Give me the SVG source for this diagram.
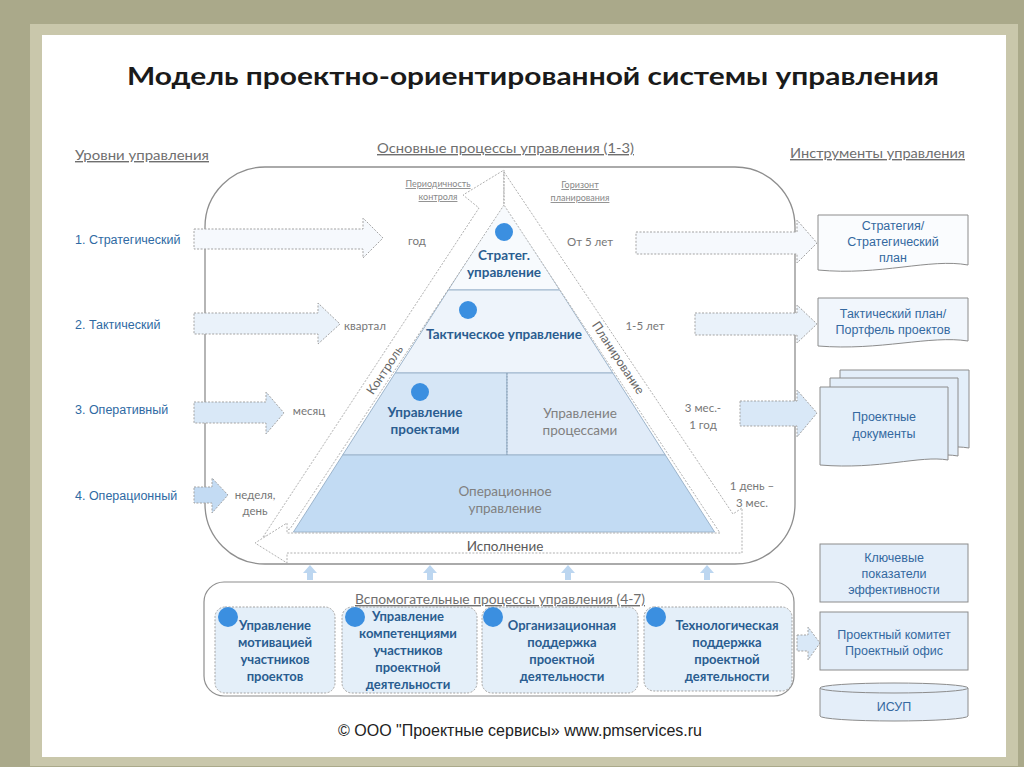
<svg xmlns="http://www.w3.org/2000/svg" width="1024" height="767" viewBox="0 0 1024 767">
<defs>
<style>
.t{font-family:Lato,"Liberation Sans",sans-serif}
.hdr{font-family:Lato,"Liberation Sans",sans-serif;font-size:14px;fill:#6f6f6f;text-decoration:underline}
.lvl{font-family:"Liberation Sans",Arial,sans-serif;font-size:12.5px;fill:#2f6aa3}
.sm{font-family:Lato,"Liberation Sans",sans-serif;font-size:11.5px;fill:#777;text-anchor:middle}
.tiny{font-family:Lato,"Liberation Sans",sans-serif;font-size:9px;fill:#888;text-anchor:middle;text-decoration:underline}
.pb{font-family:Lato,"Liberation Sans",sans-serif;font-size:13.5px;font-weight:bold;fill:#2a5d90;text-anchor:middle}
.pg{font-family:Lato,"Liberation Sans",sans-serif;font-size:13.5px;fill:#808080;text-anchor:middle}
.inst{font-family:"Liberation Sans",Arial,sans-serif;font-size:12.5px;fill:#3469a0;text-anchor:middle}
.sb{font-family:Lato,"Liberation Sans",sans-serif;font-size:13px;font-weight:bold;fill:#2a5d90;text-anchor:middle}
.dot{stroke:#a3a3a3;stroke-width:1;stroke-dasharray:2 1.5}
.band{fill:#fff;stroke:#b0b0b0;stroke-width:1;stroke-dasharray:2 1.5}
.doc{stroke:#8c8c8c;stroke-width:1}
.circ{fill:#3b8fe0}
.tier{stroke:#9db5cc;stroke-width:1}
</style>
</defs>
<!-- background -->
<rect x="0" y="0" width="1024" height="767" fill="#aaa98a"/>
<rect x="30" y="24" width="988" height="742" fill="#c9c7ab"/>
<rect x="42" y="35" width="964" height="722" fill="#ffffff"/>

<!-- title -->
<text class="t" x="533" y="85" font-size="24" font-weight="bold" fill="#1a1a1a" text-anchor="middle" textLength="812" lengthAdjust="spacingAndGlyphs">Модель проектно-ориентированной системы управления</text>

<!-- headers -->
<text class="hdr" x="75" y="160" textLength="134" lengthAdjust="spacingAndGlyphs">Уровни управления</text>
<text class="hdr" x="377" y="153" textLength="257" lengthAdjust="spacingAndGlyphs">Основные процессы управления (1-3)</text>
<text class="hdr" x="790" y="158" textLength="175" lengthAdjust="spacingAndGlyphs">Инструменты управления</text>

<!-- main container -->
<g id="main-container">
<rect x="205" y="167" width="590" height="397" rx="60" fill="#fff" stroke="#8e8e8e" stroke-width="1.3"/>
</g>

<!-- pyramid -->
<g id="pyramid">
<polygon class="tier" points="504,203 559.7,290 448.3,290" fill="#f7fafd"/>
<polygon class="tier" points="448.3,290 559.7,290 612.8,373 395.2,373" fill="#eef4fb"/>
<polygon class="tier" points="395.2,373 507,373 507,455 342.7,455" fill="#d6e6f6"/>
<polygon class="tier" points="507,373 612.8,373 665.3,455 507,455" fill="#e0ebf8"/>
<polygon class="tier" points="342.7,455 665.3,455 714.6,532 293.4,532" fill="#c2dbf3"/>
<line x1="507" y1="373" x2="507" y2="455" stroke="#8aa0b5" stroke-dasharray="1.5 1.5"/>
</g>

<!-- cycle bands and arrows -->
<g id="connectors">
<polygon id="band-control" class="band" points="263,537 479,208 463,195 504,170 504,205 290,529"/>
<polygon id="band-plan-exec" class="band" points="504,172 733,514 742,508 742,553 287,553 287,563 255,543 287,523 287,533 720,533 504,205"/>
<line x1="504" y1="172" x2="504" y2="205" stroke="#b0b0b0" stroke-dasharray="1.5 1.5"/>

<!-- left arrows -->
<polygon class="dot" fill="#f6f9fd" points="194,229 363,229 363,218 383,238 363,258 363,249 194,249"/>
<polygon class="dot" fill="#eaf2fa" points="194,313 318,313 318,303 340,324 318,344 318,334 194,334"/>
<polygon class="dot" fill="#d9e8f7" points="194,402 266,402 266,392 284,413 266,434 266,423 194,423"/>
<polygon class="dot" fill="#c3dbf3" points="194,487 212,487 212,478 228,495 212,513 212,503 194,503"/>

<!-- right arrows -->
<polygon class="dot" fill="#f6f9fd" points="636,232 797,232 797,220 817,243 797,263 797,254 636,254"/>
<polygon class="dot" fill="#eaf2fa" points="695,313 797,313 797,305 817,324 797,343 797,335 695,335"/>
<polygon class="dot" fill="#d9e8f7" points="740,401 797,401 797,390 817,413 797,437 797,426 740,426"/>
<polygon class="dot" fill="#d9e8f7" points="797,635 808,635 808,627 820,643 808,660 808,651 797,651"/>

<!-- up arrows -->
<polygon fill="#bcd6f0" points="303,573 310,565 317,573 313,573 313,580 307,580 307,573"/>
<polygon fill="#bcd6f0" points="423,573 430,565 437,573 433,573 433,580 427,580 427,573"/>
<polygon fill="#bcd6f0" points="561,573 568,565 575,573 571,573 571,580 565,580 565,573"/>
<polygon fill="#bcd6f0" points="700,573 707,565 714,573 710,573 710,580 704,580 704,573"/>
</g>

<!-- band labels -->
<text class="t" x="385" y="374" font-size="12.5" fill="#666" text-anchor="middle" transform="rotate(-56.6 385 370)">Контроль</text>
<text class="t" x="618" y="362" font-size="12.5" fill="#666" text-anchor="middle" transform="rotate(56.6 618 358)">Планирование</text>
<text class="t" x="505" y="551" font-size="13.5" fill="#5a5a5a" text-anchor="middle">Исполнение</text>
<text class="tiny" x="438" y="187">Периодичность</text>
<text class="tiny" x="438" y="200">контроля</text>
<text class="tiny" x="580" y="188">Горизонт</text>
<text class="tiny" x="580" y="201">планирования</text>

<!-- levels -->
<g id="level-1"><text class="lvl" x="75" y="244">1. Стратегический</text></g>
<g id="level-2"><text class="lvl" x="75" y="329">2. Тактический</text></g>
<g id="level-3"><text class="lvl" x="75" y="414">3. Оперативный</text></g>
<g id="level-4"><text class="lvl" x="75" y="500">4. Операционный</text></g>

<!-- periodicity -->
<text class="sm" x="417" y="245">год</text>
<text class="sm" x="365" y="330">квартал</text>
<text class="sm" x="309" y="415">месяц</text>
<text class="sm" x="255" y="499">неделя,</text>
<text class="sm" x="255" y="515">день</text>

<!-- horizons -->
<text class="sm" x="590" y="246" font-size="12">От 5 лет</text>
<text class="sm" x="645" y="330" font-size="12">1-5 лет</text>
<text class="sm" x="703" y="412" font-size="12">3 мес.-</text>
<text class="sm" x="703" y="429" font-size="12">1 год</text>
<text class="sm" x="752" y="490" font-size="12">1 день –</text>
<text class="sm" x="752" y="507" font-size="12">3 мес.</text>

<!-- pyramid labels -->
<g id="node-strateg">
<circle class="circ" cx="504" cy="232" r="9"/>
<text class="pb" x="504" y="260">Стратег.</text>
<text class="pb" x="504" y="277">управление</text>
</g>
<g id="node-tactic">
<circle class="circ" cx="468" cy="310" r="9"/>
<text class="pb" x="504" y="339">Тактическое управление</text>
</g>
<g id="node-projects">
<circle class="circ" cx="420" cy="392" r="9"/>
<text class="pb" x="425" y="417">Управление</text>
<text class="pb" x="425" y="434">проектами</text>
</g>
<g id="node-processes">
<text class="pg" x="580" y="418">Управление</text>
<text class="pg" x="580" y="435">процессами</text>
</g>
<g id="node-operational">
<text class="pg" x="505" y="496">Операционное</text>
<text class="pg" x="505" y="513">управление</text>
</g>

<!-- instruments -->
<g id="inst-strategy">
<path class="doc" fill="#fafcfe" d="M818,215 H968 V265 C930,258 880,276 818,270 Z"/>
<text class="inst" x="893" y="230">Стратегия/</text>
<text class="inst" x="893" y="246">Стратегический</text>
<text class="inst" x="893" y="262">план</text>
</g>
<g id="inst-tactic">
<path class="doc" fill="#f1f6fc" d="M818,298 H968 V341 C930,335 880,351 818,346 Z"/>
<text class="inst" x="893" y="318">Тактический план/</text>
<text class="inst" x="893" y="334">Портфель проектов</text>
</g>
<g id="inst-docs">
<path class="doc" fill="#e3eef9" d="M840,370 H969 V448 C940,443 900,457 840,452 Z"/>
<path class="doc" fill="#e3eef9" d="M830,378 H958 V456 C930,451 890,465 830,460 Z"/>
<path class="doc" fill="#e3eef9" d="M820,387 H948 V460 C920,455 880,470 820,465 Z"/>
<text class="inst" x="884" y="421">Проектные</text>
<text class="inst" x="884" y="438">документы</text>
</g>
<g id="inst-kpi">
<rect class="doc" x="820" y="544" width="148" height="58" fill="#e4eef9"/>
<text class="inst" x="894" y="562">Ключевые</text>
<text class="inst" x="894" y="578">показатели</text>
<text class="inst" x="894" y="594">эффективности</text>
</g>
<g id="inst-committee">
<rect class="doc" x="820" y="612" width="148" height="58" fill="#e4eef9"/>
<text class="inst" x="894" y="639">Проектный комитет</text>
<text class="inst" x="894" y="655">Проектный офис</text>
</g>
<g id="inst-isup">
<path class="doc" fill="#e4eef9" d="M820,688 V716 A74,5 0 0 0 968,716 V688"/>
<ellipse class="doc" cx="894" cy="688" rx="74" ry="5" fill="#e4eef9"/>
<text class="inst" x="894" y="711">ИСУП</text>
</g>

<!-- support processes -->
<g id="support-container">
<rect x="204" y="582" width="590" height="114" rx="20" fill="#fff" stroke="#8e8e8e" stroke-width="1.2"/>
<text class="hdr" x="355" y="604" textLength="290" lengthAdjust="spacingAndGlyphs">Вспомогательные процессы управления (4-7)</text>
</g>
<g id="support-1">
<rect class="dot" x="215" y="607" width="120" height="86" rx="10" fill="#e4eff9"/>
<circle class="circ" cx="228" cy="617" r="10"/>
<text class="sb" x="275" y="630">Управление</text>
<text class="sb" x="275" y="647">мотивацией</text>
<text class="sb" x="275" y="664">участников</text>
<text class="sb" x="275" y="681">проектов</text>
</g>
<g id="support-2">
<rect class="dot" x="342" y="607" width="135" height="86" rx="10" fill="#e4eff9"/>
<circle class="circ" cx="355" cy="617" r="10"/>
<text class="sb" x="408" y="621">Управление</text>
<text class="sb" x="408" y="638">компетенциями</text>
<text class="sb" x="408" y="655">участников</text>
<text class="sb" x="408" y="672">проектной</text>
<text class="sb" x="408" y="689">деятельности</text>
</g>
<g id="support-3">
<rect class="dot" x="482" y="607" width="156" height="86" rx="10" fill="#e4eff9"/>
<circle class="circ" cx="493" cy="617" r="10"/>
<text class="sb" x="562" y="630">Организационная</text>
<text class="sb" x="562" y="647">поддержка</text>
<text class="sb" x="562" y="664">проектной</text>
<text class="sb" x="562" y="681">деятельности</text>
</g>
<g id="support-4">
<rect class="dot" x="644" y="607" width="148" height="84" rx="10" fill="#e4eff9"/>
<circle class="circ" cx="656" cy="617" r="10"/>
<text class="sb" x="727" y="630">Технологическая</text>
<text class="sb" x="727" y="647">поддержка</text>
<text class="sb" x="727" y="664">проектной</text>
<text class="sb" x="727" y="681">деятельности</text>
</g>

<!-- footer -->
<text x="520" y="736" font-family="'Liberation Sans',Arial,sans-serif" font-size="16" fill="#222" text-anchor="middle">© ООО "Проектные сервисы» www.pmservices.ru</text>
</svg>
